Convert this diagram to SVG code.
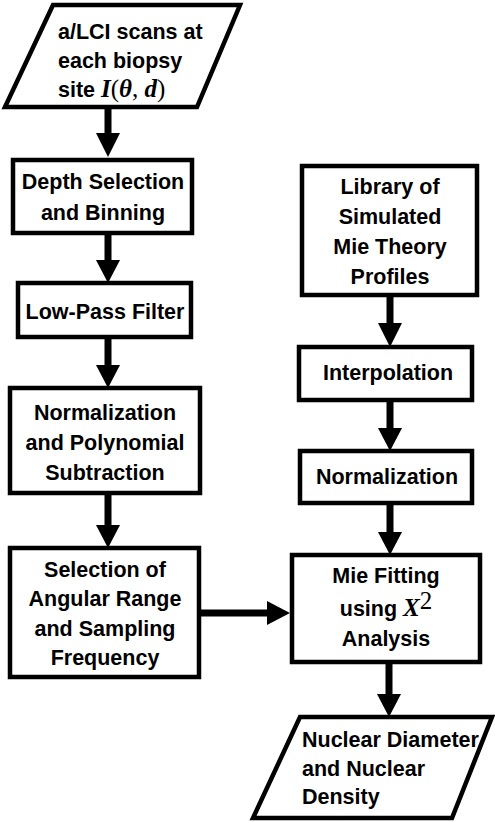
<svg xmlns="http://www.w3.org/2000/svg" width="495" height="822" viewBox="0 0 495 822">
<style>
.box{fill:#fff;stroke:#000;stroke-width:4.5}
.t{font-family:"Liberation Sans",Arial,sans-serif;font-weight:bold;font-size:21.5px;fill:#000}
.c{text-anchor:middle}
.m{font-family:"Liberation Serif","Times New Roman",serif;font-weight:bold;font-style:italic;font-size:25px}
.mr{font-family:"Liberation Serif","Times New Roman",serif;font-weight:normal;font-style:normal;font-size:25px}
.ln{stroke:#000;stroke-width:7;fill:none}
.hd{fill:#000}
</style>
<rect width="495" height="822" fill="#fff"/>
<g id="connectors">
<line class="ln" x1="108" y1="107" x2="108" y2="136"/><polygon class="hd" points="96,133 120,133 108,157"/>
<line class="ln" x1="108" y1="233" x2="108" y2="263"/><polygon class="hd" points="96,260 120,260 108,283"/>
<line class="ln" x1="108" y1="337" x2="108" y2="368"/><polygon class="hd" points="96,365 120,365 108,388"/>
<line class="ln" x1="108" y1="493" x2="108" y2="528"/><polygon class="hd" points="96,525 120,525 108,548"/>
<line class="ln" x1="199" y1="613" x2="270" y2="613"/><polygon class="hd" points="267,601 267,625 290,613"/>
<line class="ln" x1="390" y1="295" x2="390" y2="326"/><polygon class="hd" points="378,323 402,323 390,347"/>
<line class="ln" x1="390" y1="400" x2="390" y2="431"/><polygon class="hd" points="378,428 402,428 390,451"/>
<line class="ln" x1="390" y1="503" x2="390" y2="535"/><polygon class="hd" points="378,532 402,532 390,555"/>
<line class="ln" x1="389" y1="662" x2="389" y2="697"/><polygon class="hd" points="377,694 401,694 389,717"/>
</g>
<g id="input">
<polygon class="box" points="53,5 240,5 197,107 5,107"/>
<text class="t" x="58" y="39">a/LCI scans at</text>
<text class="t" x="58" y="68">each biopsy</text>
<text class="t" x="58" y="97">site <tspan class="m">I</tspan><tspan class="mr">(</tspan><tspan class="m">θ</tspan><tspan class="mr">, </tspan><tspan class="m">d</tspan><tspan class="mr">)</tspan></text>
</g>
<g id="depth">
<rect class="box" x="13" y="160" width="179" height="73"/>
<text class="t c" x="103" y="189">Depth Selection</text>
<text class="t c" x="103" y="220">and Binning</text>
</g>
<g id="lowpass">
<rect class="box" x="18" y="283" width="173" height="54"/>
<text class="t c" x="105" y="319">Low-Pass Filter</text>
</g>
<g id="normpoly">
<rect class="box" x="10" y="388" width="190" height="105"/>
<text class="t c" x="105" y="420">Normalization</text>
<text class="t c" x="105" y="450">and Polynomial</text>
<text class="t c" x="105" y="480">Subtraction</text>
</g>
<g id="selection">
<rect class="box" x="10" y="548" width="189" height="129"/>
<text class="t c" x="105" y="577">Selection of</text>
<text class="t c" x="105" y="606">Angular Range</text>
<text class="t c" x="105" y="636">and Sampling</text>
<text class="t c" x="105" y="665">Frequency</text>
</g>
<g id="library">
<rect class="box" x="302" y="166" width="175" height="129"/>
<text class="t c" x="390" y="194">Library of</text>
<text class="t c" x="390" y="224">Simulated</text>
<text class="t c" x="390" y="254">Mie Theory</text>
<text class="t c" x="390" y="284">Profiles</text>
</g>
<g id="interpolation">
<rect class="box" x="299" y="347" width="173" height="53"/>
<text class="t c" x="388" y="380">Interpolation</text>
</g>
<g id="normalization">
<rect class="box" x="300" y="451" width="172" height="52"/>
<text class="t c" x="387" y="484">Normalization</text>
</g>
<g id="miefit">
<rect class="box" x="292" y="555" width="188" height="107"/>
<text class="t c" x="386" y="583">Mie Fitting</text>
<text class="t c" x="386" y="616">using <tspan class="m" font-weight="normal" font-size="23">X</tspan><tspan class="mr" font-size="14" dy="-7">2</tspan></text>
<text class="t c" x="386" y="646">Analysis</text>
</g>
<g id="output">
<polygon class="box" points="300,717 492,717 452,818 253,818"/>
<text class="t" x="302" y="747">Nuclear Diameter</text>
<text class="t" x="302" y="776">and Nuclear</text>
<text class="t" x="302" y="804">Density</text>
</g>
</svg>
